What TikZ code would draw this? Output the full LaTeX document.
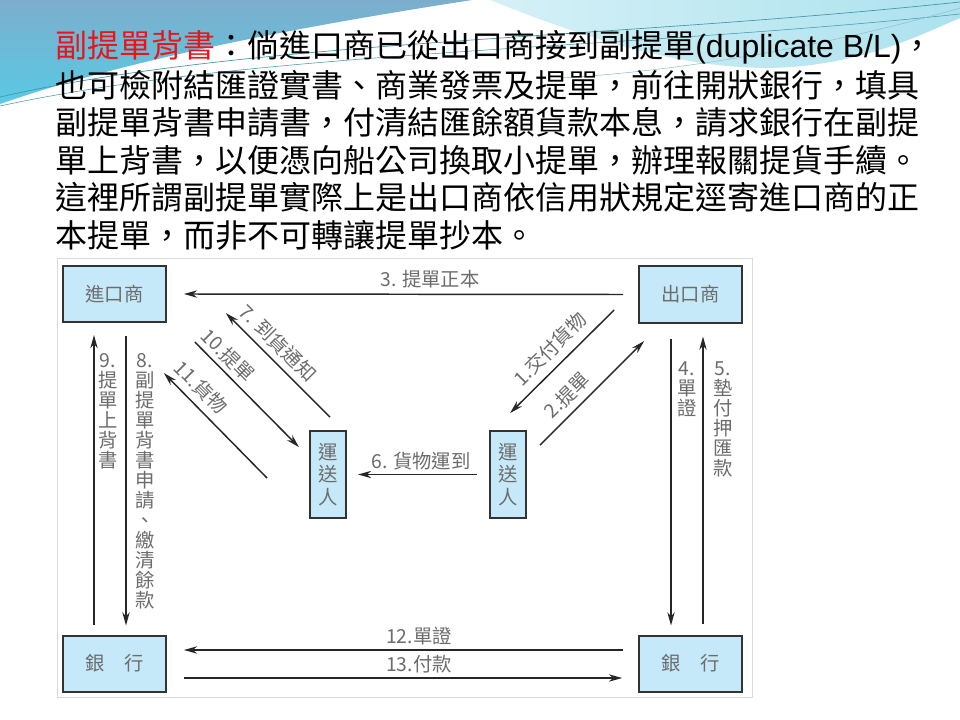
\documentclass[tikz,border=0pt]{standalone}
\usepackage{fontspec}
\setmainfont{Liberation Sans}
\newfontfamily\cjk{Noto Sans CJK TC}
\newfontfamily\latin{Liberation Sans}
\usetikzlibrary{arrows.meta}
\definecolor{steel}{RGB}{124,174,204}
\definecolor{sky}{RGB}{88,202,228}
\definecolor{pale}{RGB}{172,226,238}
\definecolor{waveline}{RGB}{64,150,172}
\definecolor{boxfill}{RGB}{198,233,249}
\definecolor{inkgray}{RGB}{108,108,108}
\definecolor{hred}{RGB}{232,22,28}
\tikzset{
	party/.style={draw=black!80,line width=1.5pt,fill=boxfill,minimum width=77pt,minimum height=42pt,inner sep=0pt,text=inkgray,font=\cjk\fontsize{14.5}{17}\selectfont},
	carrier/.style={party,minimum width=27pt,minimum height=65pt,align=center},
	flow/.style={-{Stealth[length=10pt,width=5.5pt]},line width=1.1pt,black!85},
	tag/.style={text=inkgray,font=\cjk\fontsize{14.5}{15}\selectfont,inner sep=1pt},
	vtag/.style={tag,align=center,anchor=north},
	head/.style={anchor=west,inner sep=0pt,font=\cjk\fontsize{24}{27}\selectfont}
}
\begin{document}
\begin{tikzpicture}[x=0.75pt,y=-0.75pt]
		\useasboundingbox (0,0) rectangle (960,720);
		\fill[white] (0,0) rectangle (960,720);
		% waves on top
		\shade[top color=steel,bottom color=sky] (0,0) -- (472,0) .. controls (330,22) and (140,55) .. (0,104) -- cycle;
		\shade[left color=pale!50,right color=pale] (490,0) .. controls (590,40) and (680,68) .. (770,68) .. controls (860,66) and (920,35) .. (960,18) -- (960,0) -- cycle;
		\draw[waveline,line width=0.5pt] (0,97) .. controls (250,40) and (600,40) .. (960,2);
		\draw[waveline,line width=0.4pt] (0,106) .. controls (260,50) and (620,50) .. (960,14);
		\draw[waveline!60,line width=0.4pt] (560,78) .. controls (700,70) and (850,40) .. (960,8);
%
		\node[head] (h1) at (55,47) {\textcolor{hred}{副提單背書}：倘進口商已從出口商接到副提單{\latin (duplicate B/L)}，};
		\node[head] (h2) at (55,85) {也可檢附結匯證實書、商業發票及提單，前往開狀銀行，填具};
		\node[head] (h3) at (55,122) {副提單背書申請書，付清結匯餘額貨款本息，請求銀行在副提};
		\node[head] (h4) at (55,160) {單上背書，以便憑向船公司換取小提單，辦理報關提貨手續。};
		\node[head] (h5) at (55,197) {這裡所謂副提單實際上是出口商依信用狀規定逕寄進口商的正};
		\node[head] (h6) at (55,235) {本提單，而非不可轉讓提單抄本。};
%
		\draw[gray!30,fill=white] (57,258) rectangle (752,697);
		\node[party] (imp) at (114.5,294) {進口商};
		\node[party] (exp) at (690.5,294.5) {出口商};
		\node[party] (bankL) at (114.5,663.5) {銀　行};
		\node[party] (bankR) at (690.5,663.5) {銀　行};
		\node[carrier] (carL) at (328,474.5) {運\\送\\人};
		\node[carrier] (carR) at (508,474.5) {運\\送\\人};
%
		\draw[flow] ([shift={(-15,0)}]exp.west) -- ([shift={(17,0)}]imp.east);
		\draw[flow] ([shift={(-24,-13.5)}]exp.south west) -- ([shift={(2,-17)}]carR.north);
		\draw[flow] ([shift={(13,15)}]carR.north east) -- ([shift={(6,17.5)}]exp.south west);
		\draw[flow] ([shift={(-12,0)}]carR.west) -- ([shift={(11,0)}]carL.east);
		\draw[flow] ([shift={(2,-13)}]carL.north) -- ([shift={(59,-10)}]imp.south east);
		\draw[flow] ([shift={(28,19)}]imp.south east) -- ([shift={(-10,17)}]carL.north west);
		\draw[flow] ([shift={(-42,3.5)}]carL.west) -- ([shift={(-3,50)}]imp.south east);
		\draw[flow] ([shift={(-19.5,15)}]exp.south) -- ([shift={(-19.5,-9)}]bankR.north);
		\draw[flow] ([shift={(12.5,-11)}]bankR.north) -- ([shift={(12.5,13)}]exp.south);
		\draw[flow] ([shift={(-20.5,-10)}]bankL.north) -- ([shift={(-20.5,12)}]imp.south);
		\draw[flow] ([shift={(11.5,13)}]imp.south) -- ([shift={(11.5,-9)}]bankL.north);
		\draw[flow] ([shift={(-15,-13.5)}]bankR.west) -- ([shift={(17,-13.5)}]bankL.east);
		\draw[flow] ([shift={(17,14.5)}]bankL.east) -- ([shift={(-16,14.5)}]bankR.west);
%
		\node[tag] (l3) at (430,279) {3. 提單正本};
		\node[tag] (l6) at (421,461) {6. 貨物運到};
		\node[tag,rotate=45] (l1) at (550,349) {1.交付貨物};
		\node[tag,rotate=45] (l2) at (567,395) {2.提單};
		\node[tag,rotate=-45] (l7) at (278,343) {7. 到貨通知};
		\node[tag,rotate=-45] (l10) at (228,355) {10.提單};
		\node[tag,rotate=-45] (l11) at (201,387) {11.貨物};
		\node[vtag] (l9) at (108,352) {9.\\提\\單\\上\\背\\書};
		\node[vtag] (l8) at (145,352) {8.\\副\\提\\單\\背\\書\\申\\請\\、\\繳\\清\\餘\\款};
		\node[vtag] (l4) at (687,360) {4.\\單\\證};
		\node[vtag] (l5) at (723,360) {5.\\墊\\付\\押\\匯\\款};
		\node[tag] (l12) at (419,636) {12.單證};
		\node[tag] (l13) at (419,664) {13.付款};
\end{tikzpicture}
\end{document}
